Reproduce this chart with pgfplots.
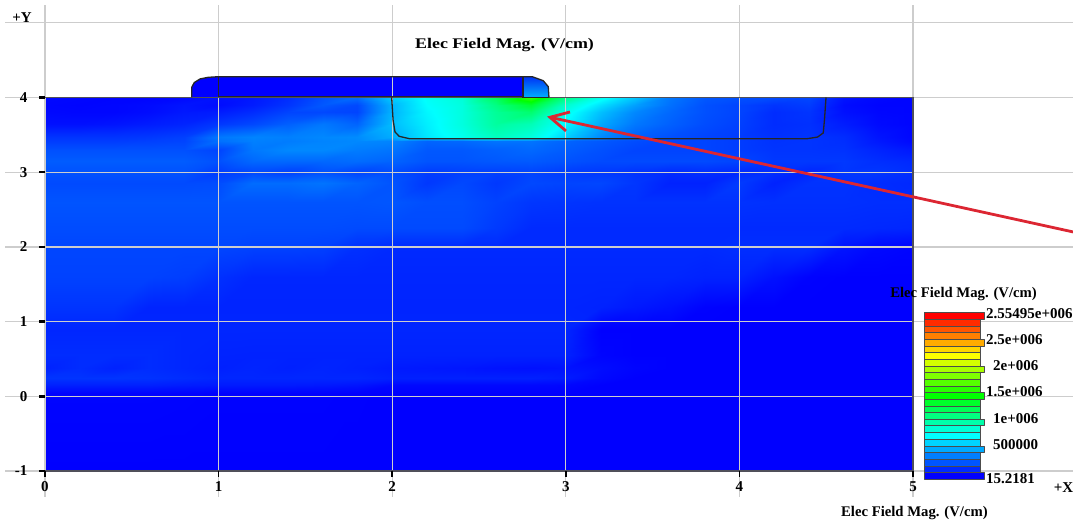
\documentclass[border=0pt]{standalone}
\usepackage{pgfplots}
\pgfplotsset{compat=1.18}
\usepgfplotslibrary{patchplots}
\usepackage{fontspec}
\setmainfont{Liberation Serif}
\definecolor{gridc}{RGB}{205,205,205}
\definecolor{framec}{RGB}{80,80,90}
\definecolor{arrowc}{RGB}{220,38,50}
\definecolor{gatec}{RGB}{0,0,255}
\pgfplotsset{colormap={emap}{rgb255=(0,0,255) rgb255=(0,255,255) rgb255=(0,255,0) rgb255=(255,255,0) rgb255=(255,0,0)},
 gl/.style={gridc,line width=1.3pt,forget plot}}
\newcommand{\lab}{\bfseries\fontsize{15}{15}\selectfont}
\newcommand{\ttl}{\bfseries\fontsize{14.7}{15}\selectfont}
\begin{document}
\begin{tikzpicture}
\begin{axis}[
 scale only axis, width=868pt, height=448.2pt,
 xmin=0, xmax=5, ymin=-1, ymax=5,
 clip=false, no markers, axis on top,
 axis line style={draw=none},
 xtick={0,1,2,3,4,5}, ytick={-1,0,1,2,3,4},
 xtick style={black,line width=1.5pt},
 ytick style={black,line width=2.5pt},
 tick align=outside, major tick length=6pt,
 xtick pos=bottom, ytick pos=left,
 /pgf/number format/assume math mode=true,
 tick label style={font=\bfseries\fontsize{15}{15}\selectfont},
 xticklabel style={yshift=-1pt},
 yticklabel style={xshift=-8pt},
 colormap name=emap, point meta min=0, point meta max=2555,
]
% field magnitude in kV/cm
\addplot[surf, shader=interp, point meta=explicit, mesh/rows=22, mesh/cols=26, forget plot]
 table[row sep=\\, x=x, y=y, meta=c]{
x y c\\
0 4 20\\0.2 4 15\\0.4 4 10\\0.6 4 10\\0.8 4 20\\1 4 40\\1.2 4 60\\1.4 4 110\\1.6 4 200\\1.8 4 275\\2 4 520\\2.2 4 660\\2.4 4 740\\2.6 4 1050\\2.8 4 1450\\3 4 950\\3.2 4 680\\3.4 4 500\\3.6 4 300\\3.8 4 220\\4 4 200\\4.2 4 190\\4.4 4 180\\4.6 4 50\\4.8 4 20\\5 4 10\\
0 3.9 15\\0.2 3.9 10\\0.4 3.9 15\\0.6 3.9 25\\0.8 3.9 50\\1 3.9 30\\1.2 3.9 70\\1.4 3.9 130\\1.6 3.9 220\\1.8 3.9 180\\2 3.9 450\\2.2 3.9 640\\2.4 3.9 720\\2.6 3.9 950\\2.8 3.9 1150\\3 3.9 760\\3.2 3.9 560\\3.4 3.9 400\\3.6 3.9 280\\3.8 3.9 200\\4 3.9 170\\4.2 3.9 130\\4.4 3.9 150\\4.6 3.9 30\\4.8 3.9 10\\5 3.9 10\\
0 3.8 20\\0.2 3.8 15\\0.4 3.8 15\\0.6 3.8 30\\0.8 3.8 60\\1 3.8 70\\1.2 3.8 110\\1.4 3.8 170\\1.6 3.8 180\\1.8 3.8 170\\2 3.8 450\\2.2 3.8 620\\2.4 3.8 720\\2.6 3.8 900\\2.8 3.8 1000\\3 3.8 680\\3.2 3.8 480\\3.4 3.8 340\\3.6 3.8 260\\3.8 3.8 200\\4 3.8 170\\4.2 3.8 110\\4.4 3.8 130\\4.6 3.8 40\\4.8 3.8 15\\5 3.8 10\\
0 3.65 40\\0.2 3.65 40\\0.4 3.65 50\\0.6 3.65 70\\0.8 3.65 90\\1 3.65 140\\1.2 3.65 180\\1.4 3.65 240\\1.6 3.65 300\\1.8 3.65 250\\2 3.65 470\\2.2 3.65 600\\2.4 3.65 720\\2.6 3.65 880\\2.8 3.65 820\\3 3.65 620\\3.2 3.65 420\\3.4 3.65 300\\3.6 3.65 240\\3.8 3.65 190\\4 3.65 160\\4.2 3.65 110\\4.4 3.65 120\\4.6 3.65 70\\4.8 3.65 25\\5 3.65 10\\
0 3.47 130\\0.2 3.47 130\\0.4 3.47 130\\0.6 3.47 140\\0.8 3.47 160\\1 3.47 300\\1.2 3.47 330\\1.4 3.47 320\\1.6 3.47 340\\1.8 3.47 350\\2 3.47 430\\2.2 3.47 580\\2.4 3.47 680\\2.6 3.47 800\\2.8 3.47 720\\3 3.47 520\\3.2 3.47 340\\3.4 3.47 240\\3.6 3.47 200\\3.8 3.47 170\\4 3.47 150\\4.2 3.47 120\\4.4 3.47 130\\4.6 3.47 110\\4.8 3.47 50\\5 3.47 15\\
0 3.42 150\\0.2 3.42 150\\0.4 3.42 150\\0.6 3.42 160\\0.8 3.42 170\\1 3.42 280\\1.2 3.42 320\\1.4 3.42 310\\1.6 3.42 330\\1.8 3.42 340\\2 3.42 330\\2.2 3.42 250\\2.4 3.42 260\\2.6 3.42 290\\2.8 3.42 290\\3 3.42 250\\3.2 3.42 220\\3.4 3.42 190\\3.6 3.42 170\\3.8 3.42 170\\4 3.42 150\\4.2 3.42 125\\4.4 3.42 130\\4.6 3.42 115\\4.8 3.42 60\\5 3.42 20\\
0 3.3 200\\0.2 3.3 200\\0.4 3.3 200\\0.6 3.3 200\\0.8 3.3 200\\1 3.3 170\\1.2 3.3 300\\1.4 3.3 340\\1.6 3.3 340\\1.8 3.3 310\\2 3.3 290\\2.2 3.3 220\\2.4 3.3 220\\2.6 3.3 240\\2.8 3.3 260\\3 3.3 230\\3.2 3.3 200\\3.4 3.3 170\\3.6 3.3 170\\3.8 3.3 170\\4 3.3 150\\4.2 3.3 130\\4.4 3.3 130\\4.6 3.3 125\\4.8 3.3 90\\5 3.3 60\\
0 3.15 230\\0.2 3.15 230\\0.4 3.15 230\\0.6 3.15 230\\0.8 3.15 230\\1 3.15 200\\1.2 3.15 260\\1.4 3.15 260\\1.6 3.15 260\\1.8 3.15 270\\2 3.15 250\\2.2 3.15 210\\2.4 3.15 210\\2.6 3.15 220\\2.8 3.15 225\\3 3.15 205\\3.2 3.15 185\\3.4 3.15 185\\3.6 3.15 185\\3.8 3.15 185\\4 3.15 170\\4.2 3.15 140\\4.4 3.15 140\\4.6 3.15 140\\4.8 3.15 115\\5 3.15 100\\
0 3 205\\0.2 3 205\\0.4 3 205\\0.6 3 205\\0.8 3 205\\1 3 150\\1.2 3 180\\1.4 3 160\\1.6 3 200\\1.8 3 170\\2 3 190\\2.2 3 150\\2.4 3 160\\2.6 3 160\\2.8 3 170\\3 3 150\\3.2 3 140\\3.4 3 125\\3.6 3 105\\3.8 3 115\\4 3 105\\4.2 3 115\\4.4 3 95\\4.6 3 135\\4.8 3 135\\5 3 115\\
0 2.85 185\\0.2 2.85 185\\0.4 2.85 185\\0.6 2.85 185\\0.8 2.85 185\\1 2.85 190\\1.2 2.85 270\\1.4 2.85 270\\1.6 2.85 290\\1.8 2.85 250\\2 2.85 210\\2.2 2.85 140\\2.4 2.85 180\\2.6 2.85 140\\2.8 2.85 180\\3 2.85 170\\3.2 2.85 175\\3.4 2.85 135\\3.6 2.85 85\\3.8 2.85 85\\4 2.85 145\\4.2 2.85 85\\4.4 2.85 125\\4.6 2.85 125\\4.8 2.85 110\\5 2.85 100\\
0 2.6 210\\0.2 2.6 210\\0.4 2.6 210\\0.6 2.6 210\\0.8 2.6 210\\1 2.6 210\\1.2 2.6 210\\1.4 2.6 210\\1.6 2.6 210\\1.8 2.6 210\\2 2.6 215\\2.2 2.6 195\\2.4 2.6 195\\2.6 2.6 165\\2.8 2.6 135\\3 2.6 130\\3.2 2.6 125\\3.4 2.6 125\\3.6 2.6 125\\3.8 2.6 125\\4 2.6 125\\4.2 2.6 120\\4.4 2.6 120\\4.6 2.6 120\\4.8 2.6 115\\5 2.6 115\\
0 2.25 190\\0.2 2.25 190\\0.4 2.25 190\\0.6 2.25 190\\0.8 2.25 190\\1 2.25 190\\1.2 2.25 190\\1.4 2.25 190\\1.6 2.25 190\\1.8 2.25 185\\2 2.25 185\\2.2 2.25 185\\2.4 2.25 185\\2.6 2.25 145\\2.8 2.25 105\\3 2.25 105\\3.2 2.25 105\\3.4 2.25 105\\3.6 2.25 105\\3.8 2.25 105\\4 2.25 105\\4.2 2.25 105\\4.4 2.25 105\\4.6 2.25 105\\4.8 2.25 100\\5 2.25 95\\
0 2 175\\0.2 2 175\\0.4 2 175\\0.6 2 175\\0.8 2 175\\1 2 175\\1.2 2 165\\1.4 2 165\\1.6 2 160\\1.8 2 120\\2 2 105\\2.2 2 105\\2.4 2 105\\2.6 2 105\\2.8 2 105\\3 2 105\\3.2 2 105\\3.4 2 105\\3.6 2 105\\3.8 2 105\\4 2 115\\4.2 2 115\\4.4 2 115\\4.6 2 50\\4.8 2 20\\5 2 10\\
0 1.6 165\\0.2 1.6 165\\0.4 1.6 165\\0.6 1.6 165\\0.8 1.6 155\\1 1.6 120\\1.2 1.6 95\\1.4 1.6 95\\1.6 1.6 95\\1.8 1.6 95\\2 1.6 95\\2.2 1.6 95\\2.4 1.6 95\\2.6 1.6 95\\2.8 1.6 95\\3 1.6 95\\3.2 1.6 95\\3.4 1.6 95\\3.6 1.6 95\\3.8 1.6 85\\4 1.6 85\\4.2 1.6 40\\4.4 1.6 5\\4.6 1.6 0\\4.8 1.6 0\\5 1.6 0\\
0 1.2 130\\0.2 1.2 130\\0.4 1.2 130\\0.6 1.2 90\\0.8 1.2 90\\1 1.2 90\\1.2 1.2 90\\1.4 1.2 90\\1.6 1.2 90\\1.8 1.2 90\\2 1.2 90\\2.2 1.2 90\\2.4 1.2 90\\2.6 1.2 90\\2.8 1.2 90\\3 1.2 90\\3.2 1.2 85\\3.4 1.2 60\\3.6 1.2 40\\3.8 1.2 5\\4 1.2 0\\4.2 1.2 0\\4.4 1.2 0\\4.6 1.2 0\\4.8 1.2 0\\5 1.2 0\\
0 0.9 95\\0.2 0.9 95\\0.4 0.9 95\\0.6 0.9 95\\0.8 0.9 95\\1 0.9 95\\1.2 0.9 95\\1.4 0.9 95\\1.6 0.9 95\\1.8 0.9 95\\2 0.9 95\\2.2 0.9 95\\2.4 0.9 95\\2.6 0.9 95\\2.8 0.9 95\\3 0.9 95\\3.2 0.9 0\\3.4 0.9 0\\3.6 0.9 0\\3.8 0.9 0\\4 0.9 0\\4.2 0.9 0\\4.4 0.9 0\\4.6 0.9 0\\4.8 0.9 0\\5 0.9 0\\
0 0.55 110\\0.2 0.55 110\\0.4 0.55 110\\0.6 0.55 110\\0.8 0.55 95\\1 0.55 87\\1.2 0.55 85\\1.4 0.55 85\\1.6 0.55 85\\1.8 0.55 85\\2 0.55 85\\2.2 0.55 85\\2.4 0.55 85\\2.6 0.55 85\\2.8 0.55 85\\3 0.55 85\\3.2 0.55 10\\3.4 0.55 0\\3.6 0.55 0\\3.8 0.55 0\\4 0.55 0\\4.2 0.55 0\\4.4 0.55 0\\4.6 0.55 0\\4.8 0.55 0\\5 0.55 0\\
0 0.38 85\\0.2 0.38 110\\0.4 0.38 85\\0.6 0.38 110\\0.8 0.38 95\\1 0.38 80\\1.2 0.38 90\\1.4 0.38 80\\1.6 0.38 90\\1.8 0.38 80\\2 0.38 65\\2.2 0.38 60\\2.4 0.38 55\\2.6 0.38 45\\2.8 0.38 40\\3 0.38 45\\3.2 0.38 30\\3.4 0.38 10\\3.6 0.38 0\\3.8 0.38 0\\4 0.38 0\\4.2 0.38 0\\4.4 0.38 0\\4.6 0.38 0\\4.8 0.38 0\\5 0.38 0\\
0 0.25 130\\0.2 0.25 130\\0.4 0.25 130\\0.6 0.25 125\\0.8 0.25 110\\1 0.25 95\\1.2 0.25 95\\1.4 0.25 95\\1.6 0.25 95\\1.8 0.25 95\\2 0.25 80\\2.2 0.25 80\\2.4 0.25 80\\2.6 0.25 80\\2.8 0.25 80\\3 0.25 65\\3.2 0.25 20\\3.4 0.25 0\\3.6 0.25 0\\3.8 0.25 0\\4 0.25 0\\4.2 0.25 0\\4.4 0.25 0\\4.6 0.25 0\\4.8 0.25 0\\5 0.25 0\\
0 0.15 80\\0.2 0.15 80\\0.4 0.15 80\\0.6 0.15 80\\0.8 0.15 70\\1 0.15 65\\1.2 0.15 65\\1.4 0.15 65\\1.6 0.15 60\\1.8 0.15 50\\2 0.15 20\\2.2 0.15 20\\2.4 0.15 20\\2.6 0.15 20\\2.8 0.15 20\\3 0.15 15\\3.2 0.15 0\\3.4 0.15 0\\3.6 0.15 0\\3.8 0.15 0\\4 0.15 0\\4.2 0.15 0\\4.4 0.15 0\\4.6 0.15 0\\4.8 0.15 0\\5 0.15 0\\
0 0.05 10\\0.2 0.05 10\\0.4 0.05 10\\0.6 0.05 10\\0.8 0.05 8\\1 0.05 5\\1.2 0.05 5\\1.4 0.05 5\\1.6 0.05 5\\1.8 0.05 2\\2 0.05 0\\2.2 0.05 0\\2.4 0.05 0\\2.6 0.05 0\\2.8 0.05 0\\3 0.05 0\\3.2 0.05 0\\3.4 0.05 0\\3.6 0.05 0\\3.8 0.05 0\\4 0.05 0\\4.2 0.05 0\\4.4 0.05 0\\4.6 0.05 0\\4.8 0.05 0\\5 0.05 0\\
0 -1 0\\0.2 -1 0\\0.4 -1 0\\0.6 -1 0\\0.8 -1 0\\1 -1 0\\1.2 -1 0\\1.4 -1 0\\1.6 -1 0\\1.8 -1 0\\2 -1 0\\2.2 -1 0\\2.4 -1 0\\2.6 -1 0\\2.8 -1 0\\3 -1 0\\3.2 -1 0\\3.4 -1 0\\3.6 -1 0\\3.8 -1 0\\4 -1 0\\4.2 -1 0\\4.4 -1 0\\4.6 -1 0\\4.8 -1 0\\5 -1 0\\
};
% gate and spacers
\addplot[fill=gatec,draw=none,forget plot] coordinates {(0.845,4)(0.845,4.136)(0.86,4.2)(0.893,4.248)(0.94,4.27)(0.998,4.278)(2.753,4.278)(2.753,4)} --cycle;
\addplot[top color={rgb,255:red,0;green,50;blue,245},bottom color={rgb,255:red,0;green,175;blue,255},draw=none,forget plot] coordinates {(2.753,4)(2.753,4.278)(2.807,4.278)(2.87,4.225)(2.899,4.145)(2.903,4)} --cycle;
% grid
\addplot[gl] coordinates {(0,-1.348)(0,5.238)};
\addplot[gl] coordinates {(1,-1.348)(1,5.238)};
\addplot[gl] coordinates {(2,-1.348)(2,5.238)};
\addplot[gl] coordinates {(3,-1.348)(3,5.238)};
\addplot[gl] coordinates {(4,-1.348)(4,5.238)};
\addplot[gl] coordinates {(5,-1.348)(5,5.238)};
\addplot[gl] coordinates {(-0.23,-1)(5.93,-1)};
\addplot[gl] coordinates {(-0.23,0)(5.93,0)};
\addplot[gl] coordinates {(-0.23,1)(5.93,1)};
\addplot[gl] coordinates {(-0.23,2)(5.93,2)};
\addplot[gl] coordinates {(-0.23,3)(5.93,3)};
\addplot[gl] coordinates {(-0.23,4)(5.93,4)};
\addplot[gl] coordinates {(-0.23,5)(5.93,5)};
% frame
\addplot[framec,line width=1.2pt,forget plot] coordinates {(0,4)(5,4)(5,-1)(0,-1)};
% device outline
\addplot[black!85,line width=1.3pt,forget plot] coordinates {(0.845,4)(0.845,4.136)(0.86,4.2)(0.893,4.248)(0.94,4.27)(0.998,4.278)(2.807,4.278)(2.87,4.225)(2.899,4.145)(2.903,4)};
\addplot[black!85,line width=1.3pt,forget plot] coordinates {(0.998,4.278)(0.998,4)};
\addplot[black!85,line width=1.3pt,forget plot] coordinates {(2.753,4.278)(2.753,4)(2.903,4)};
\addplot[black!85,line width=1.5pt,forget plot] coordinates {(0.998,4.01)(2.753,4.01)};
\addplot[black!85,line width=1.3pt,forget plot] coordinates {(1.997,4)(2.005,3.7)(2.016,3.54)(2.04,3.48)(2.10,3.448)(4.39,3.448)(4.45,3.47)(4.483,3.525)(4.49,3.7)(4.499,4)};
% arrow
\addplot[arrowc,line width=2.8pt,forget plot] coordinates {(5.95,2.186)(2.909,3.735)};
\addplot[arrowc,line width=2.8pt,forget plot] coordinates {(3.024,3.806)(2.909,3.735)(3.001,3.552)};
% colour scale
\addplot[patch, patch type=rectangle, shader=faceted, faceted color=black!70, line width=0.9pt, point meta=explicit, forget plot]
 table[row sep=\\, x=x, y=y, meta=c]{
x y c\\
5.065 -1.111 0\\5.409 -1.111 0\\5.409 -1.022 0\\5.065 -1.022 0\\
5.065 -1.022 106\\5.386 -1.022 106\\5.386 -0.933 106\\5.065 -0.933 106\\
5.065 -0.933 213\\5.386 -0.933 213\\5.386 -0.843 213\\5.065 -0.843 213\\
5.065 -0.843 319\\5.386 -0.843 319\\5.386 -0.754 319\\5.065 -0.754 319\\
5.065 -0.754 426\\5.409 -0.754 426\\5.409 -0.665 426\\5.065 -0.665 426\\
5.065 -0.665 532\\5.386 -0.665 532\\5.386 -0.576 532\\5.065 -0.576 532\\
5.065 -0.576 639\\5.386 -0.576 639\\5.386 -0.487 639\\5.065 -0.487 639\\
5.065 -0.487 745\\5.386 -0.487 745\\5.386 -0.397 745\\5.065 -0.397 745\\
5.065 -0.397 852\\5.409 -0.397 852\\5.409 -0.308 852\\5.065 -0.308 852\\
5.065 -0.308 958\\5.386 -0.308 958\\5.386 -0.219 958\\5.065 -0.219 958\\
5.065 -0.219 1065\\5.386 -0.219 1065\\5.386 -0.130 1065\\5.065 -0.130 1065\\
5.065 -0.130 1171\\5.386 -0.130 1171\\5.386 -0.041 1171\\5.065 -0.041 1171\\
5.065 -0.041 1278\\5.409 -0.041 1278\\5.409 0.049 1278\\5.065 0.049 1278\\
5.065 0.049 1384\\5.386 0.049 1384\\5.386 0.138 1384\\5.065 0.138 1384\\
5.065 0.138 1490\\5.386 0.138 1490\\5.386 0.227 1490\\5.065 0.227 1490\\
5.065 0.227 1597\\5.386 0.227 1597\\5.386 0.316 1597\\5.065 0.316 1597\\
5.065 0.316 1703\\5.409 0.316 1703\\5.409 0.405 1703\\5.065 0.405 1703\\
5.065 0.405 1810\\5.386 0.405 1810\\5.386 0.495 1810\\5.065 0.495 1810\\
5.065 0.495 1916\\5.386 0.495 1916\\5.386 0.584 1916\\5.065 0.584 1916\\
5.065 0.584 2023\\5.386 0.584 2023\\5.386 0.673 2023\\5.065 0.673 2023\\
5.065 0.673 2129\\5.409 0.673 2129\\5.409 0.762 2129\\5.065 0.762 2129\\
5.065 0.762 2236\\5.386 0.762 2236\\5.386 0.851 2236\\5.065 0.851 2236\\
5.065 0.851 2342\\5.386 0.851 2342\\5.386 0.941 2342\\5.065 0.941 2342\\
5.065 0.941 2449\\5.386 0.941 2449\\5.386 1.030 2449\\5.065 1.030 2449\\
5.065 1.030 2555\\5.409 1.030 2555\\5.409 1.119 2555\\5.065 1.119 2555\\
};
% texts
\node[font=\ttl] at (axis cs:2.647,4.704) {\scalebox{1.22}[1]{Elec Field Mag. (V/cm)}};
\node[font=\lab,anchor=center] at (axis cs:-0.132,5.064) {+Y};
\node[font=\lab,anchor=west,inner sep=0pt] at (axis cs:5.81,-1.225) {+X};
\node[font=\ttl,anchor=west,inner sep=0pt] at (axis cs:4.868,1.371) {Elec Field Mag. (V/cm)};
\node[font=\ttl,anchor=west,inner sep=0pt] at (axis cs:4.585,-1.56) {Elec Field Mag. (V/cm)};
\node[font=\lab,anchor=west,inner sep=0pt] at (axis cs:5.42,1.103) {2.55495e+006};
\node[font=\lab,anchor=west,inner sep=0pt] at (axis cs:5.42,0.755) {2.5e+006};
\node[font=\lab,anchor=west,inner sep=0pt] at (axis cs:5.461,0.407) {2e+006};
\node[font=\lab,anchor=west,inner sep=0pt] at (axis cs:5.42,0.059) {1.5e+006};
\node[font=\lab,anchor=west,inner sep=0pt] at (axis cs:5.461,-0.303) {1e+006};
\node[font=\lab,anchor=west,inner sep=0pt] at (axis cs:5.461,-0.651) {500000};
\node[font=\lab,anchor=west,inner sep=0pt] at (axis cs:5.42,-1.106) {15.2181};
\coordinate (bbA) at (axis cs:-0.2592,-1.669);
\coordinate (bbB) at (axis cs:5.9217,5.305);
\end{axis}
\pgfresetboundingbox
\path[use as bounding box] (bbA) rectangle (bbB);
\end{tikzpicture}
\end{document}
